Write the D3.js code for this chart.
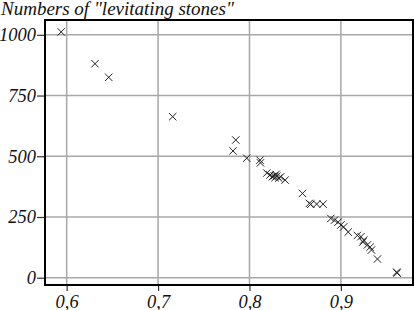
<!DOCTYPE html>
<html>
<head>
<meta charset="utf-8">
<script src="https://cdn.jsdelivr.net/npm/d3@7"></script>
<style>
  html, body { margin: 0; padding: 0; background: #fff; }
  svg { display: block; }
  text { font-family: "Liberation Serif", "Times New Roman", serif; font-style: italic; fill: #111; }
</style>
</head>
<body>
<script>
const title = 'Numbers of "levitating stones"';
const xTicks = [0.6, 0.7, 0.8, 0.9];
const xTickLabels = ["0,6", "0,7", "0,8", "0,9"];
const yTicks = [0, 250, 500, 750, 1000];
const yTickLabels = ["0", "250", "500", "750", "1000"];

const xValues = [
  0.594, 0.631, 0.646, 0.716, 0.785, 0.782, 0.797, 0.8115, 0.812,
  0.819, 0.8225, 0.825, 0.827, 0.828, 0.829, 0.830, 0.832, 0.834, 0.839,
  0.858, 0.8655, 0.867, 0.8735, 0.8805,
  0.889, 0.893, 0.897, 0.900, 0.903, 0.908, 0.918, 0.922, 0.925, 0.924,
  0.929, 0.932, 0.9335, 0.940, 0.961, 0.9615
];
const yValues = [
  1012, 881, 825, 663, 567, 522, 492, 484, 473,
  431, 423, 416, 420, 412, 425, 418, 410, 415, 402,
  347, 306, 302, 303, 303,
  244, 237, 229, 217, 209, 188, 174, 169, 155, 147,
  135, 126, 114, 77, 23, 19
];

const W = 415, H = 310;
const mLeft = 45, mRight = 413, mTop = 20, mBottom = 285;
const FONT = '"Liberation Serif", "Times New Roman", serif';

const x = d3.scaleLinear().domain([0.5763, 0.9789]).range([mLeft, mRight]);
const y = d3.scaleLinear().domain([-30, 1061]).range([mBottom, mTop]);

const svg = d3.select("body").append("svg").attr("width", W).attr("height", H);

// gridlines
svg.append("g").selectAll("line").data(xTicks).join("line")
  .attr("x1", d => x(d)).attr("x2", d => x(d))
  .attr("y1", mTop).attr("y2", mBottom)
  .attr("stroke", "#a8a8a8").attr("stroke-width", 1.5);
svg.append("g").selectAll("line").data(yTicks).join("line")
  .attr("y1", d => y(d)).attr("y2", d => y(d))
  .attr("x1", mLeft).attr("x2", mRight)
  .attr("stroke", "#a8a8a8").attr("stroke-width", 1.5);

// axes
const xAxis = d3.axisBottom(x).tickValues(xTicks)
  .tickFormat((d, i) => xTickLabels[i]).tickSize(6).tickPadding(3);
const yAxis = d3.axisLeft(y).tickValues(yTicks)
  .tickFormat((d, i) => yTickLabels[i]).tickSize(8).tickPadding(1);

const gx = svg.append("g").attr("transform", `translate(0,${mBottom})`).call(xAxis);
const gy = svg.append("g").attr("transform", `translate(${mLeft},0)`).call(yAxis);
[gx, gy].forEach(g => {
  g.select(".domain").remove();
  g.selectAll(".tick line").attr("stroke", "#333").attr("stroke-width", 1.2);
  g.selectAll(".tick text").attr("font-size", 18.5)
    .attr("font-family", FONT).attr("font-style", "italic").attr("fill", "#111");
});
gx.selectAll(".tick text").attr("dy", "0.76em");

// frame
svg.append("rect").attr("x", mLeft).attr("y", mTop)
  .attr("width", mRight - mLeft).attr("height", mBottom - mTop)
  .attr("fill", "none").attr("stroke", "#000").attr("stroke-width", 2);

// markers
const pts = xValues.map((v, i) => [v, yValues[i]]);
const s = 3.7;
svg.append("g").selectAll("path").data(pts).join("path")
  .attr("d", d => {
    const cx = x(d[0]), cy = y(d[1]);
    return `M${cx - s},${cy - s}L${cx + s},${cy + s}M${cx - s},${cy + s}L${cx + s},${cy - s}`;
  })
  .attr("stroke", "#222").attr("stroke-width", 1).attr("fill", "none");

// title
svg.append("text").attr("x", 1).attr("y", 15).attr("font-size", 19)
  .attr("font-family", FONT).attr("font-style", "italic").text(title);
</script>
</body>
</html>
